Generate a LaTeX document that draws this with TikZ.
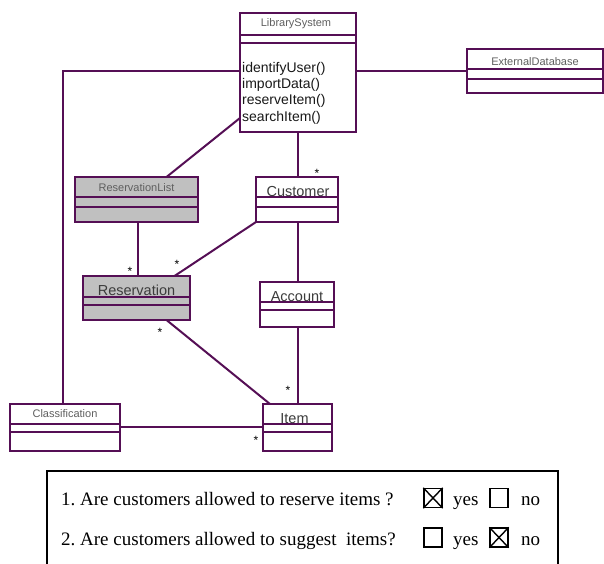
\documentclass[tikz,border=0pt]{standalone}
\usepackage{fontspec}
\setmainfont{Liberation Serif}
\newfontfamily\umlfont{Liberation Sans}
\usetikzlibrary{calc}
\frenchspacing

\definecolor{umlline}{RGB}{85,15,85}
\definecolor{umlfill}{RGB}{192,192,192}
\definecolor{namegray}{RGB}{95,95,95}
\definecolor{namedark}{RGB}{60,60,60}
\definecolor{optext}{RGB}{25,25,25}

% class box: name, x, y (top left), width, height, first and second compartment offsets, fill
\newcommand\umlclass[8]{%
  \node[classbox, fill=#8, minimum width=#4pt, minimum height=#5pt, anchor=north west] (#1) at (#2,#3) {};
  \draw[classline] ($(#1.north west)+(0,#6)$) -- ($(#1.north east)+(0,#6)$);
  \draw[classline] ($(#1.north west)+(0,#7)$) -- ($(#1.north east)+(0,#7)$);
}

\tikzset{
  classbox/.style={draw=umlline, line width=2pt, rectangle, inner sep=0pt, outer sep=0pt},
  classline/.style={draw=umlline, line width=2pt},
  assoc/.style={draw=umlline, line width=2pt},
  smallname/.style={font=\umlfont\fontsize{11}{13}\selectfont, text=namegray, inner sep=0pt},
  bigname/.style={font=\umlfont\fontsize{14.5}{16}\selectfont, text=namedark, inner sep=0pt, anchor=base},
  ops/.style={font=\umlfont\fontsize{14}{16.3}\selectfont, text=optext, inner sep=0pt, align=left, anchor=base west},
  mult/.style={font=\umlfont\fontsize{12}{13}\selectfont, text=black, inner sep=0pt, anchor=north},
  qtext/.style={font=\fontsize{19}{22}\selectfont, text=black, inner sep=0pt, anchor=base west},
  chk/.style={draw=black, line width=1.4pt, rectangle, minimum width=18pt, minimum height=19pt, inner sep=0pt},
  chkline/.style={draw=black, line width=1.4pt},
  qframe/.style={draw=black, line width=1.8pt},
}

\begin{document}
\begin{tikzpicture}[x=1pt, y=-1pt]
\clip (0,0) rectangle (604,563);

% free ends of the two long library system lines
\coordinate (libleft) at (240,71);
\coordinate (libright) at (356,71);
\coordinate (clsfjoin) at (63,404);
\coordinate (extjoin) at (467,71);

% class boxes
\umlclass{lib}{240}{13}{116}{119}{22}{30}{white}
\umlclass{ext}{467}{49}{136}{44}{20}{30}{white}
\umlclass{reslist}{75}{177}{123}{45}{20}{30}{umlfill}
\umlclass{cust}{256}{177}{82}{45}{20}{30}{white}
\umlclass{res}{83}{276}{107}{44}{21}{29}{umlfill}
\umlclass{acct}{260}{282}{74}{45}{20}{28}{white}
\umlclass{item}{263}{404}{69}{47}{20}{28}{white}
\umlclass{clsf}{10}{404}{110}{47}{20}{28}{white}

% associations
\draw[assoc] (libleft) -| (clsfjoin);
\draw[assoc] (libright) -- (extjoin);
\draw[assoc] ([yshift=14pt]lib.south west) -- ([xshift=30pt]reslist.north);
\draw[assoc] (lib.south) -- (lib.south |- cust.north);
\draw[assoc] (cust.south west) -- ([xshift=38pt]res.north);
\draw[assoc] ([xshift=1.5pt]reslist.south) -- ([xshift=1.5pt]res.north);
\draw[assoc] (lib.south |- cust.south) -- (lib.south |- acct.north);
\draw[assoc] (lib.south |- acct.south) -- (lib.south |- item.north);
\draw[assoc] ([xshift=30pt]res.south) -- ([xshift=7pt]item.north west);
\draw[assoc] ([yshift=0.5pt]clsf.east) -- ([yshift=0.5pt]item.west);

% class names
\node[smallname] (libname) at ($(lib.north)+(-2,11)$) {LibrarySystem};
\node[smallname] (extname) at ($(ext.north)+(0,13)$) {ExternalDatabase};
\node[smallname] (reslistname) at ($(reslist.north)+(0,11)$) {ReservationList};
\node[smallname] (clsfname) at ($(clsf.north)+(0,10)$) {Classification};
\node[bigname] (custname) at ($(cust.north)+(1,19)$) {Customer};
\node[bigname] (resname) at ($(res.north)+(0,19)$) {Reservation};
\node[bigname] (acctname) at ($(acct.north)+(0,19.5)$) {Account};
\node[bigname] (itemname) at ($(item.north)+(-3,19)$) {Item};

% operations of the library system (anchored at the last baseline)
\node[ops] (libops) at (242,121) {identifyUser()\\importData()\\reserveItem()\\searchItem()};

% multiplicities
\node[mult] (m1) at (317,169) {*};
\node[mult] (m2) at (130,267) {*};
\node[mult] (m3) at (177,260) {*};
\node[mult] (m4) at (160,328) {*};
\node[mult] (m5) at (288,386) {*};
\node[mult] (m6) at (256,436) {*};

% questionnaire
\draw[qframe] (47,570) |- (558,471) -- (558,570);
\node[qtext] (q1) at (61,505) {1. Are customers allowed to reserve items ?};
\node[qtext] (q2) at (61,545) {2. Are customers allowed to suggest\ \ items?};

\node[chk] (c1yes) at (433,498) {};
\node[chk] (c1no) at (499,498) {};
\node[chk] (c2yes) at (433,537.5) {};
\node[chk] (c2no) at (499,537.5) {};
\draw[chkline] (c1yes.north west) -- (c1yes.south east) (c1yes.north east) -- (c1yes.south west);
\draw[chkline] (c2no.north west) -- (c2no.south east) (c2no.north east) -- (c2no.south west);

\node[qtext] (y1) at (453,505) {yes};
\node[qtext] (n1) at (521,505) {no};
\node[qtext] (y2) at (453,545) {yes};
\node[qtext] (n2) at (521,545) {no};
\end{tikzpicture}
\end{document}
